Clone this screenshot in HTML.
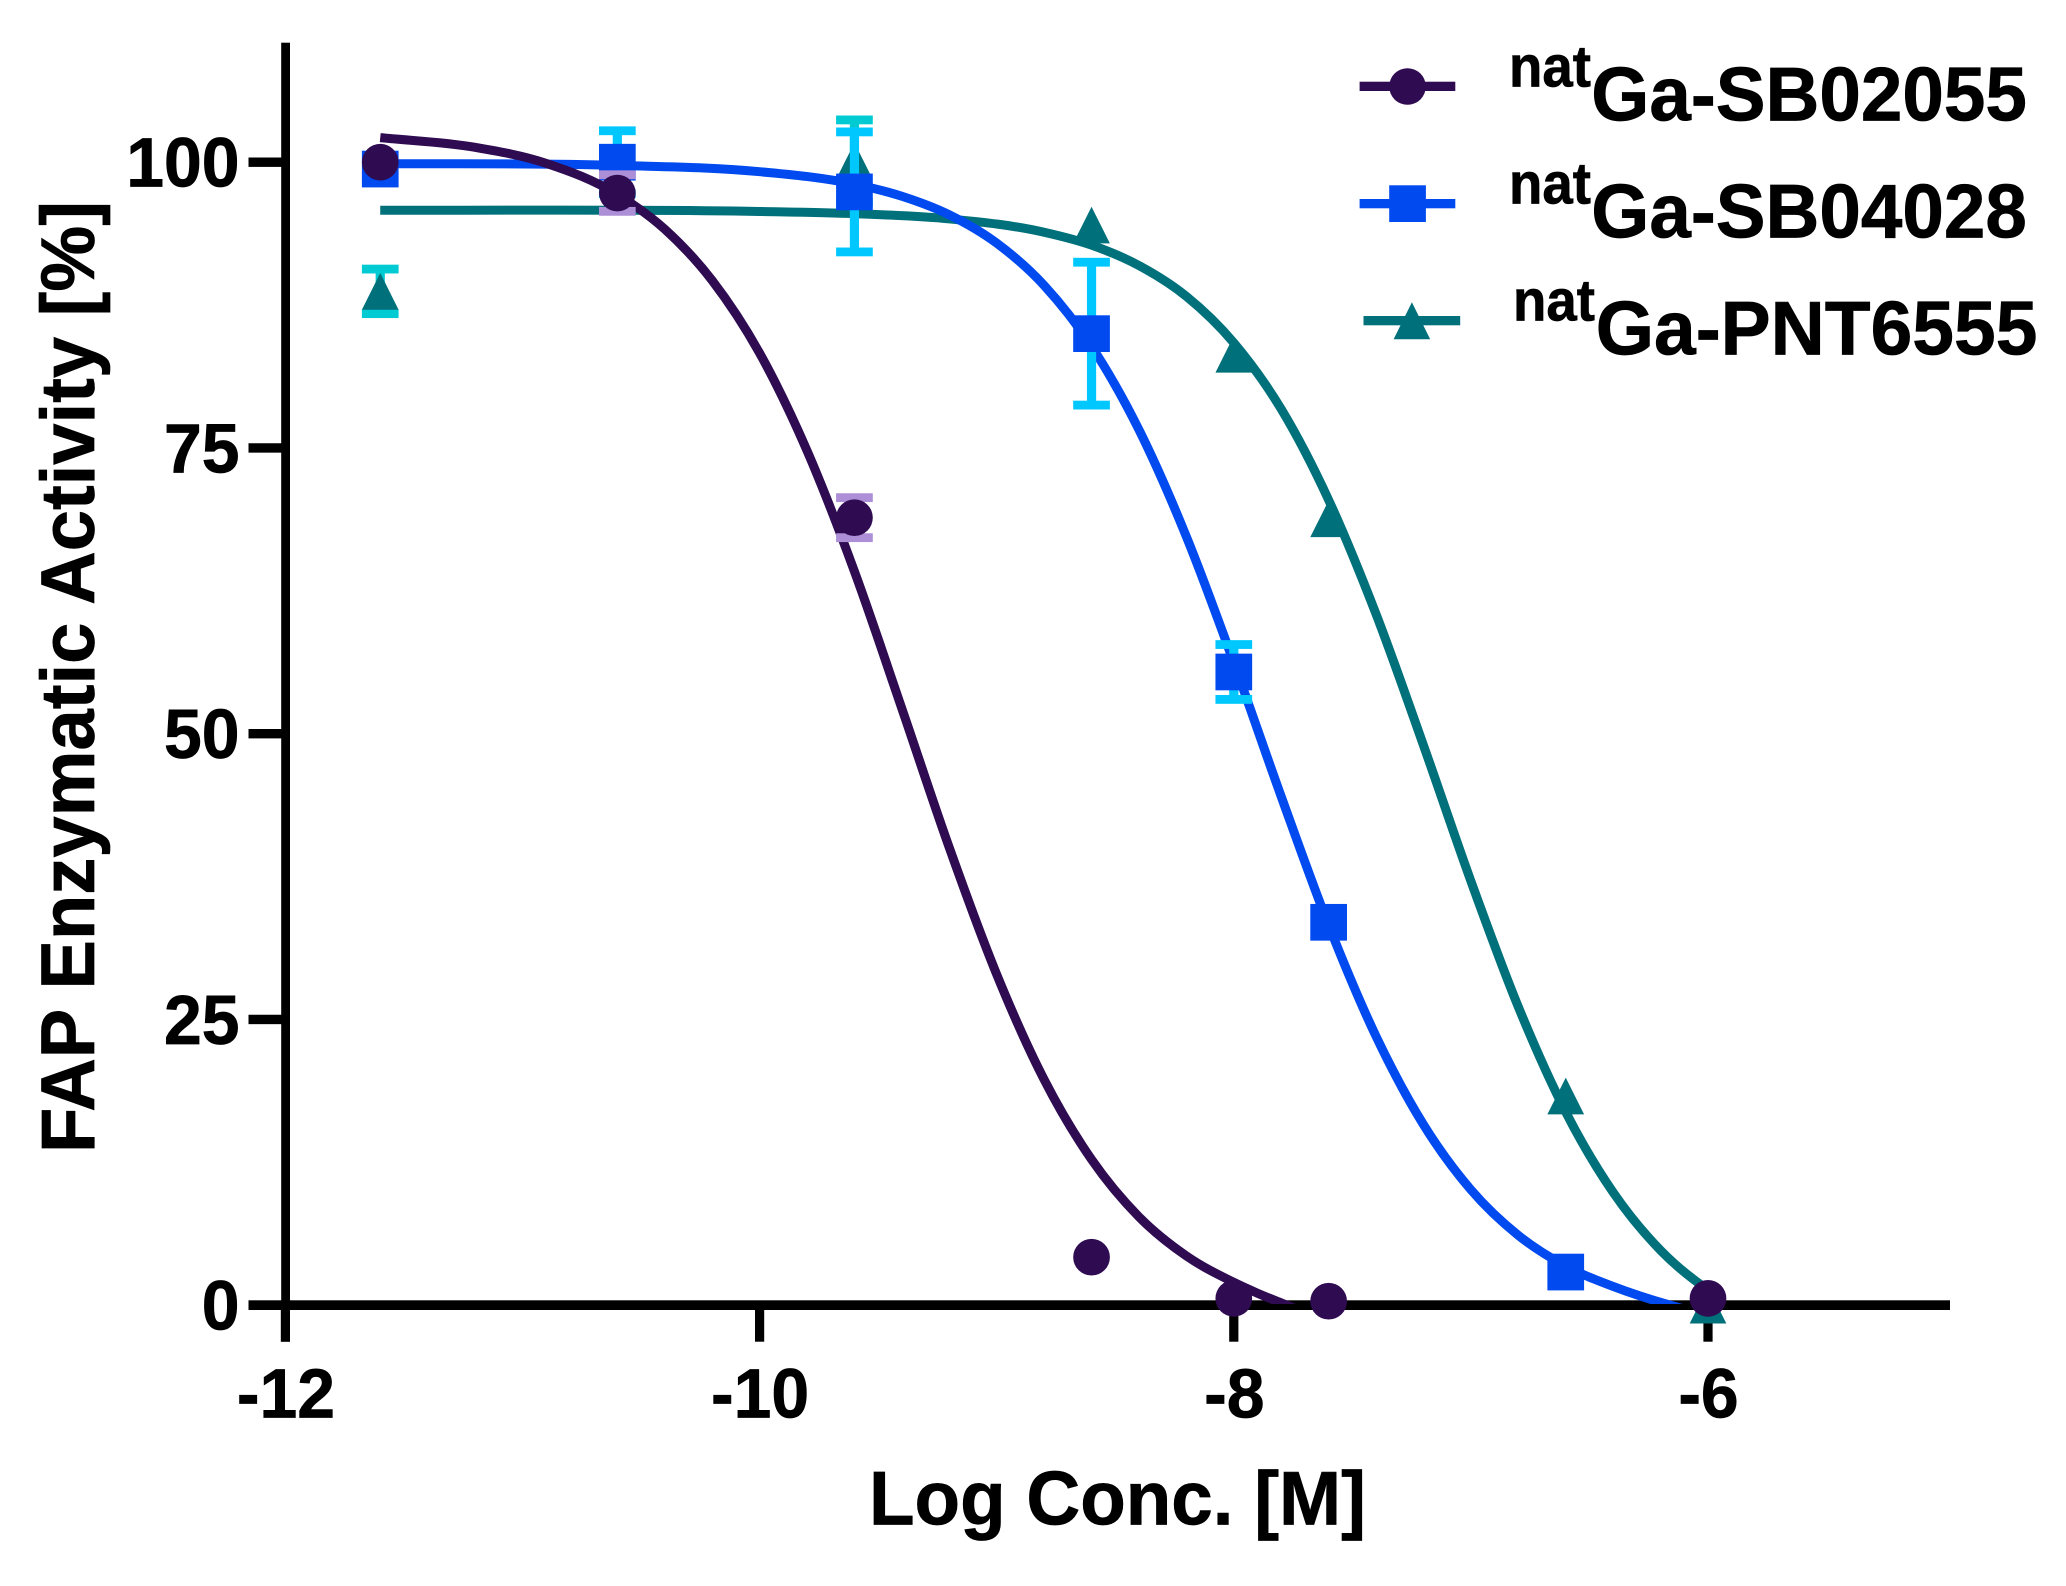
<!DOCTYPE html>
<html lang="en">
<head>
<meta charset="utf-8">
<title>FAP Enzymatic Activity</title>
<style>
html,body{margin:0;padding:0;background:#fff;width:2066px;height:1586px;overflow:hidden}
svg{display:block}
text{font-family:"Liberation Sans",Arial,sans-serif;font-weight:700;fill:#000;stroke:#000;stroke-width:.7px}
</style>
</head>
<body>
<svg id="chart" xmlns="http://www.w3.org/2000/svg" width="2066" height="1586" viewBox="0 0 2066 1586">
  <rect width="2066" height="1586" fill="#ffffff"/>
  <defs><clipPath id="plot-clip"><rect x="285" y="30" width="1670" height="1274"/></clipPath></defs>
  <g id="axes"></g>
  <g id="series"></g>
  <text transform="translate(94,1153) rotate(-90)" font-size="76" textLength="952" lengthAdjust="spacingAndGlyphs">FAP Enzymatic Activity [%]</text>
  <text x="869" y="1524.5" font-size="76" textLength="497" lengthAdjust="spacingAndGlyphs">Log Conc. [M]</text>

  <g>
    <g>
      <rect x="1359.6" y="81.7" width="95.7" height="9.3" fill="#2f0b52"/>
      <circle cx="1407.5" cy="86.5" r="18.3" fill="#2f0b52"/>
      <text x="1509" y="86.5" font-size="58" textLength="82" lengthAdjust="spacingAndGlyphs">nat</text>
      <text x="1591.3" y="120.3" font-size="76" textLength="435.6" lengthAdjust="spacingAndGlyphs">Ga-SB02055</text>
    </g>
    <g>
      <rect x="1359.6" y="199" width="95.7" height="9.3" fill="#004af0"/>
      <rect x="1389.2" y="185.3" width="36.7" height="36.7" fill="#004af0"/>
      <text x="1509" y="203.5" font-size="58" textLength="82" lengthAdjust="spacingAndGlyphs">nat</text>
      <text x="1591.3" y="237.3" font-size="76" textLength="435.6" lengthAdjust="spacingAndGlyphs">Ga-SB04028</text>
    </g>
    <g>
      <rect x="1363.5" y="316" width="96.7" height="9.3" fill="#00707a"/>
      <polygon points="1411.9,302.3 1430.2,339.2 1393.6,339.2" fill="#00707a"/>
      <text x="1513" y="320.5" font-size="58" textLength="82" lengthAdjust="spacingAndGlyphs">nat</text>
      <text x="1595.7" y="354.3" font-size="76" textLength="441.7" lengthAdjust="spacingAndGlyphs">Ga-PNT6555</text>
    </g>
  </g>
</svg>

<script>
// ---- axis tick labels ----
const xTicks = [-12, -10, -8, -6];
const yTicks = [0, 25, 50, 75, 100];

// ---- measured points ----
const pointX = [-11.6, -10.6, -9.6, -8.6, -8, -7.6, -6.6, -6];

const sb02055Values = [100, 97.3, 68.9, 4.2, 0.6, 0.35, null, 0.6];
const sb02055Errors = [0, 1.6, 1.75, 0, 0, 0, 0, 0];

const sb04028Values = [99.4, 100, 97.4, 85, 55.4, 33.5, 2.9, null];
const sb04028Errors = [0, 2.75, 5.25, 6.25, 2.4, 0, 0, 0];

const pnt6555Values = [88.7, 100, 100.1, 94.5, 83.2, 68.8, 18.3, 0];
const pnt6555Errors = [1.95, 0, 3.6, 0, 0, 0, 0, 0];

// ---- fitted curves ----
const sb02055CurveX = [-11.6, -11.2, -10.9, -10.6, -10.4, -10.2, -10, -9.8, -9.6, -9.4, -9.2, -9, -8.8, -8.6, -8.4, -8.2, -8, -7.9, -7.8, -7.74];
const sb02055CurveY = [102.15, 101.3, 99.9, 97.18, 94.14, 89.65, 83.3, 74.76, 64.2, 52.2, 40.03, 28.94, 19.74, 12.75, 7.73, 4.31, 2, 1.05, 0.2, -0.3];

const sb04028CurveX = [-11.6, -10.6, -10, -9.6, -9.4, -9.2, -9, -8.8, -8.6, -8.4, -8.2, -8, -7.8, -7.6, -7.4, -7.2, -7, -6.8, -6.6, -6.4, -6.3, -6.2, -6.1];
const sb04028CurveY = [99.88, 99.72, 99.17, 98.08, 97.02, 95.4, 92.92, 89.22, 83.89, 76.59, 67.24, 56.22, 44.5, 33.25, 23.52, 15.8, 10.1, 6.11, 3.42, 1.64, 0.9, 0.25, -0.35];

const pnt6555CurveX = [-11.6, -10, -9.6, -9.2, -8.8, -8.6, -8.4, -8.2, -8, -7.8, -7.6, -7.4, -7.2, -7, -6.8, -6.6, -6.4, -6.2, -6, -5.95];
const pnt6555CurveY = [95.8, 95.69, 95.5, 95.04, 93.87, 92.74, 90.96, 88.26, 84.2, 78.4, 70.45, 60.46, 48.98, 37.1, 26.1, 16.9, 9.87, 4.8, 1.34, 0.66];

// ---- axis functions ----
const xScale = v => 285.4 + (v + 12) * 237.1;
const yScale = v => 1305.2 - v * 11.43;
const NS = 'http://www.w3.org/2000/svg';
const MARKER = 36.7;

function make(tag, attrs, parent) {
  const el = document.createElementNS(NS, tag);
  for (const k in attrs) el.setAttribute(k, attrs[k]);
  parent.appendChild(el);
  return el;
}

// smooth cubic Hermite path through the sampled curve points
function curvePath(xs, ys) {
  const p = xs.map((x, i) => [xScale(x), yScale(ys[i])]);
  const n = p.length, d = [], m = [];
  for (let i = 0; i < n - 1; i++) d.push((p[i + 1][1] - p[i][1]) / (p[i + 1][0] - p[i][0]));
  m[0] = d[0];
  m[n - 1] = d[n - 2];
  for (let i = 1; i < n - 1; i++) {
    const h0 = p[i][0] - p[i - 1][0], h1 = p[i + 1][0] - p[i][0];
    m[i] = (d[i - 1] * h1 + d[i] * h0) / (h0 + h1);
  }
  let s = 'M' + p[0][0].toFixed(2) + ' ' + p[0][1].toFixed(2);
  for (let i = 0; i < n - 1; i++) {
    const h = (p[i + 1][0] - p[i][0]) / 3;
    s += 'C' + (p[i][0] + h).toFixed(2) + ' ' + (p[i][1] + m[i] * h).toFixed(2) + ' ' +
         (p[i + 1][0] - h).toFixed(2) + ' ' + (p[i + 1][1] - m[i + 1] * h).toFixed(2) + ' ' +
         p[i + 1][0].toFixed(2) + ' ' + p[i + 1][1].toFixed(2);
  }
  return s;
}

// ---- axes ----
const axes = document.getElementById('axes');
const yAxisLine = make('rect', {x: 281.2, y: 42.7, width: 8.8, height: 1299, fill: '#000'}, axes);


const xAxisLine = make('rect', {x: 248.5, y: 1300.3, width: 1701.5, height: 9.7, fill: '#000'}, axes);



yTicks.forEach(t => {
  const mark = make('rect', {x: 248.5, y: yScale(t) - 4.7, width: 36, height: 9.4, fill: '#000'}, axes);
  
  
  const label = make('text', {transform: 'translate(239.5,' + (yScale(t) + 24.3) + ') scale(0.97,1)', 'font-size': 70, 'text-anchor': 'end'}, axes);
  label.textContent = String(t);
  
  
});

xTicks.forEach(t => {
  const mark = make('rect', {x: xScale(t) - 4.6, y: 1305, width: 9.2, height: 36.7, fill: '#000'}, axes);
  
  
  const label = make('text', {transform: 'translate(' + (xScale(t) + 0.5) + ',1417.5) scale(0.97,1)', 'font-size': 70, 'text-anchor': 'middle'}, axes);
  label.textContent = String(t);
  
  
});

// ---- series ----
function drawSeries(name, shape, color, errColor, values, errors, curveX, curveY) {
  const host = document.getElementById('series');
  const group = make('g', {}, host);
  
  

  const line = make('path', {d: curvePath(curveX, curveY), fill: 'none', stroke: color, 'stroke-width': 9, 'clip-path': 'url(#plot-clip)'}, group);
  
  

  pointX.forEach((x, i) => {
    const v = values[i], e = errors[i];
    if (v === null || !e) return;
    const cx = xScale(x), top = yScale(v + e), bot = yScale(v - e);
    const bar = make('g', {fill: errColor}, group);
    
    
    make('rect', {x: cx - 4.6, y: top, width: 9.2, height: bot - top}, bar);
    make('rect', {x: cx - MARKER / 2, y: top - 4.4, width: MARKER, height: 8.8}, bar);
    make('rect', {x: cx - MARKER / 2, y: bot - 4.4, width: MARKER, height: 8.8}, bar);
  });

  pointX.forEach((x, i) => {
    const v = values[i];
    if (v === null) return;
    const cx = xScale(x), cy = yScale(v), r = MARKER / 2;
    let mark;
    if (shape === 'circle') {
      mark = make('circle', {cx: cx, cy: cy, r: r, fill: color}, group);
    } else if (shape === 'square') {
      mark = make('rect', {x: cx - r, y: cy - r, width: MARKER, height: MARKER, fill: color}, group);
    } else {
      mark = make('polygon', {points: cx + ',' + (cy - r) + ' ' + (cx + r) + ',' + (cy + r) + ' ' + (cx - r) + ',' + (cy + r), fill: color}, group);
    }
    
    
  });
}

drawSeries('pnt6555', 'triangle', '#00707a', '#00cbd3', pnt6555Values, pnt6555Errors, pnt6555CurveX, pnt6555CurveY);
drawSeries('sb04028', 'square', '#004af0', '#00c8ff', sb04028Values, sb04028Errors, sb04028CurveX, sb04028CurveY);
drawSeries('sb02055', 'circle', '#2f0b52', '#ac8fd6', sb02055Values, sb02055Errors, sb02055CurveX, sb02055CurveY);
</script>
</body>
</html>
